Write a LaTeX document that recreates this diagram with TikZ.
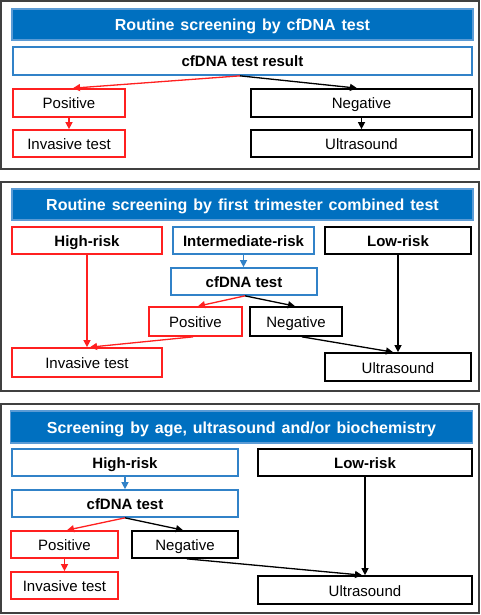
\documentclass[tikz,border=0pt]{standalone}
\usepackage{fontspec}
\setmainfont{Liberation Sans}
\usetikzlibrary{arrows.meta,calc}
\definecolor{titleblue}{HTML}{0070C0}
\definecolor{titleedge}{HTML}{5B9BD5}
\definecolor{boxblue}{HTML}{3182C8}
\definecolor{boxred}{HTML}{FF2020}
\definecolor{framegray}{HTML}{404040}
\newcommand{\mytitlefont}{\fontsize{16}{18}\selectfont\bfseries\spaceskip=6.0pt plus 1pt minus 1pt\relax}
\newcommand{\myboxfont}{\fontsize{15}{17}\selectfont}
\tikzset{
  panel/.style={draw=framegray, line width=1.4pt},
  titlebar/.style={fill=titleblue, draw=titleedge, line width=1.6pt, text=white, inner sep=0pt,
    font=\mytitlefont, text height=12.5pt, text depth=0pt},
  bx/.style={draw, line width=1.7pt, inner sep=0pt, fill=white, font=\myboxfont,
    text height=12pt, text depth=0pt},
  boldtext/.style={font=\myboxfont\bfseries},
  bluebox/.style={bx, draw=boxblue, boldtext},
  redbox/.style={bx, draw=boxred},
  blackbox/.style={bx, draw=black},
  sz/.style 2 args={minimum width=#1pt, minimum height=#2pt},
  arr/.style={line width=1.3pt, -{Triangle[length=7pt,width=7pt]}},
  redarr/.style={arr, draw=boxred, fill=boxred},
  bluearr/.style={arr, draw=boxblue, fill=boxblue},
  blackarr/.style={arr, draw=black, fill=black},
}
\begin{document}
\begin{tikzpicture}[x=1pt,y=-1pt]
\useasboundingbox (0,0) rectangle (480,615);
% ---------- Panel 1 ----------
\draw[panel] (1,1) rectangle (479,169);
\node[titlebar, sz={461}{31}] (t1) at (242.5,24.5) {Routine screening by cfDNA test};
\node[bluebox, sz={459}{28}] (res) at (242.5,61) {cfDNA test result};
\node[redbox, sz={112}{28}] (pos1) at (69,103) {Positive};
\node[redbox, sz={112}{27}] (inv1) at (69,143.5) {Invasive test};
\node[blackbox, sz={221}{28}] (neg1) at (361.5,103) {Negative};
\node[blackbox, sz={221}{27}] (ult1) at (361.5,143.5) {Ultrasound};
\draw[redarr] ([xshift=-2.5pt]res.south) -- ([xshift=4pt]pos1.north);
\draw[blackarr] ([xshift=-2.5pt]res.south) -- ([xshift=-4.5pt]neg1.north);
\draw[redarr] (pos1.south) -- (inv1.north);
\draw[blackarr] (neg1.south) -- (ult1.north);
% ---------- Panel 2 ----------
\draw[panel] (1,182) rectangle (479,391);
\node[titlebar, sz={461}{31}] (t2) at (242.5,204.5) {Routine screening by first trimester combined test};
\node[redbox, sz={150}{27}, boldtext] (hr2) at (87,240.5) {High-risk};
\node[bluebox, sz={141}{27}] (ir2) at (243.5,240.5) {Intermediate-risk};
\node[blackbox, sz={146}{27}, boldtext] (lr2) at (398,240.5) {Low-risk};
\node[bluebox, sz={146}{27}] (cf2) at (244,281.5) {cfDNA test};
\node[redbox, sz={93}{29}] (pos2) at (195.5,321.5) {Positive};
\node[blackbox, sz={92}{29}] (neg2) at (296,321.5) {Negative};
\node[redbox, sz={150}{29}] (inv2) at (87,362.5) {Invasive test};
\node[blackbox, sz={146}{28}] (ult2) at (398,367) {Ultrasound};
\draw[bluearr] (ir2.south) -- (ir2.south |- cf2.north);
\draw[redarr] ([xshift=1pt]cf2.south) -- ([xshift=2.5pt]pos2.north);
\draw[blackarr] ([xshift=1pt]cf2.south) -- ([xshift=-1pt]neg2.north);
\draw[redarr] (hr2.south) -- (inv2.north);
\draw[redarr] ([xshift=-2.5pt]pos2.south) -- ([xshift=3pt]inv2.north);
\draw[blackarr] (lr2.south) -- (ult2.north);
\draw[blackarr] ([xshift=6pt]neg2.south) -- ([xshift=-5pt]ult2.north);
% ---------- Panel 3 ----------
\draw[panel] (1,404) rectangle (479,613);
\node[titlebar, sz={462}{32}] (t3) at (241.5,427) {Screening by age, ultrasound and/or biochemistry};
\node[bluebox, sz={226}{27}] (hr3) at (125,462.5) {High-risk};
\node[blackbox, sz={214}{27}, boldtext] (lr3) at (365,462.5) {Low-risk};
\node[bluebox, sz={226}{27}] (cf3) at (125,503.5) {cfDNA test};
\node[redbox, sz={107}{27}] (pos3) at (64.5,544.5) {Positive};
\node[blackbox, sz={106}{27}] (neg3) at (185,544.5) {Negative};
\node[redbox, sz={107}{27}] (inv3) at (64.5,585.5) {Invasive test};
\node[blackbox, sz={214}{28}] (ult3) at (365,590) {Ultrasound};
\draw[bluearr] (hr3.south) -- (cf3.north);
\draw[redarr] (cf3.south) -- ([xshift=2.5pt]pos3.north);
\draw[blackarr] (cf3.south) -- ([xshift=-2pt]neg3.north);
\draw[redarr] (pos3.south) -- (inv3.north);
\draw[blackarr] (lr3.south) -- (ult3.north);
\draw[blackarr] ([xshift=2pt]neg3.south) -- ([xshift=-3pt]ult3.north);
\end{tikzpicture}
\end{document}
